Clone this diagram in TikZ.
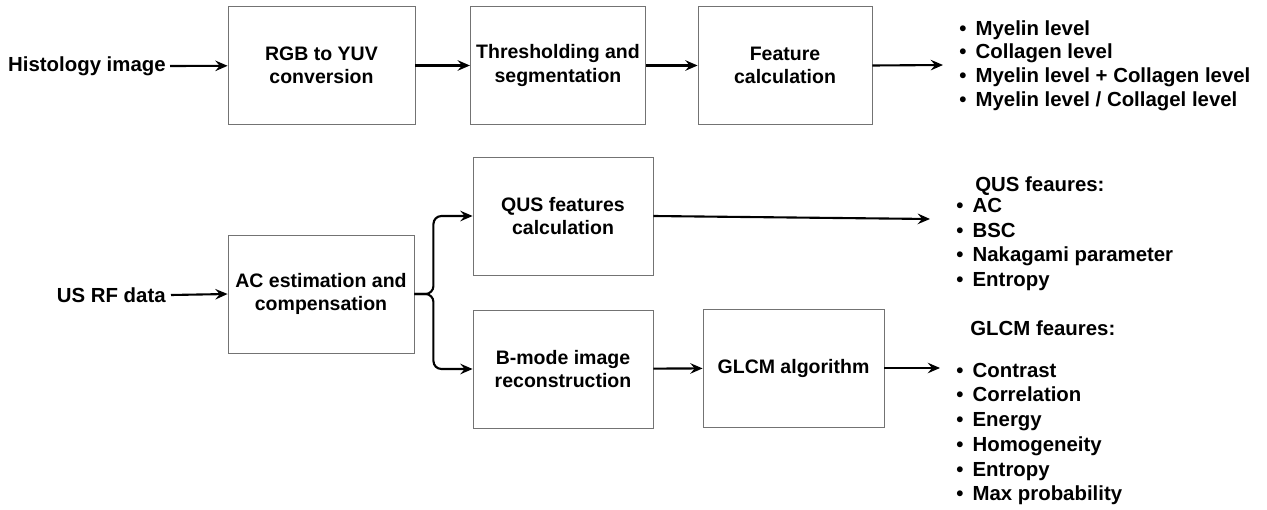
\documentclass[tikz,border=0pt]{standalone}
\usepackage{fontspec}
\setmainfont{Liberation Sans}
\usetikzlibrary{arrows.meta}
\tikzstyle{label} = [font=\bfseries\fontsize{11.6}{13.5}\selectfont, inner sep=0pt]
\tikzstyle{process} = [rectangle, minimum width=3.6cm, minimum height=2.36cm, text centered, align=center, draw=black!55, line width=0.5pt, font=\bfseries\fontsize{11.1}{13.2}\selectfont]
\tikzstyle{featlist} = [align=left, inner sep=0pt, font=\bfseries\fontsize{11.6}{14.1}\selectfont]
\tikzstyle{arrow} = [line width=1.2pt, -{Stealth[length=7pt, width=6pt, inset=2.5pt]}]
\newcommand{\itm}[1]{\textbullet\hspace{0.45em}#1}

\begin{document}
\begin{tikzpicture}[x=0.02cm, y=-0.02cm]
	\useasboundingbox (0,0) rectangle (1267,510);
	
	% histology branch
	\node (hist) [label, anchor=east] at (166,66) {Histology image};
	
	\node (rgb) [process, minimum width=3.74cm] at (321.5,65.5) {RGB to YUV\\conversion};
	
	\node (thr) [process, minimum width=3.48cm] at (558,65.5) {Thresholding and\\segmentation};
	
	\node (feat) [process, minimum width=3.48cm] at (785,65.5) {Feature\\calculation};
	
	\node (histout) [featlist, font=\bfseries\fontsize{11.6}{13.4}\selectfont, anchor=west] at (959,65.5) {\itm{Myelin level}\\\itm{Collagen level}\\\itm{Myelin level + Collagen level}\\\itm{Myelin level / Collagel level}};
	\coordinate (histend) at (943,65);
	
	% ultrasound branch
	\node (usrf) [label, anchor=east] at (166,295) {US RF data};
	
	\node (acest) [process, minimum width=3.72cm] at (321,294) {AC estimation and\\compensation};
	
	\node (qus) [process] at (563,216) {QUS features\\calculation};
	
	\node (bmode) [process] at (563,369) {B-mode image\\reconstruction};
	
	\node (glcm) [process, minimum width=3.62cm] at (793.5,368) {GLCM algorithm};
	
	\node (qushead) [label, anchor=west] at (975,186) {QUS feaures:};
	\node (qusout) [featlist, anchor=west] at (956,244.5) {\itm{AC}\\\itm{BSC}\\\itm{Nakagami parameter}\\\itm{Entropy}};
	\coordinate (qusend) at (930,219);
	
	\node (glcmhead) [label, anchor=west] at (970,328) {GLCM feaures:};
	\node (glcmout) [featlist, anchor=west] at (956,434) {\itm{Contrast}\\\itm{Correlation}\\\itm{Energy}\\\itm{Homogeneity}\\\itm{Entropy}\\\itm{Max probability}};
	\coordinate (glcmend) at (940,368);
	
	%
	
	\draw[arrow] (hist.east) ++(4,0) coordinate (histstart) -- (rgb);
	\draw[arrow] (rgb) -- (thr);
	\draw[arrow] (thr) -- (feat);
	\draw[arrow] (feat.east) -- (histend);
	\draw[arrow] (usrf.east) ++(5,0) coordinate (usstart) -- (acest.west);
	\draw[arrow, rounded corners=0.16cm] (acest.east) -- ++(19,0) |- (qus.west);
	\draw[arrow, rounded corners=0.16cm] (acest.east) -- ++(19,0) |- (bmode.west);
	\draw[arrow] (qus.east) -- (qusend);
	\draw[arrow] (bmode) -- (glcm);
	\draw[arrow] (glcm.east) -- (glcmend);
	
\end{tikzpicture}
\end{document}
